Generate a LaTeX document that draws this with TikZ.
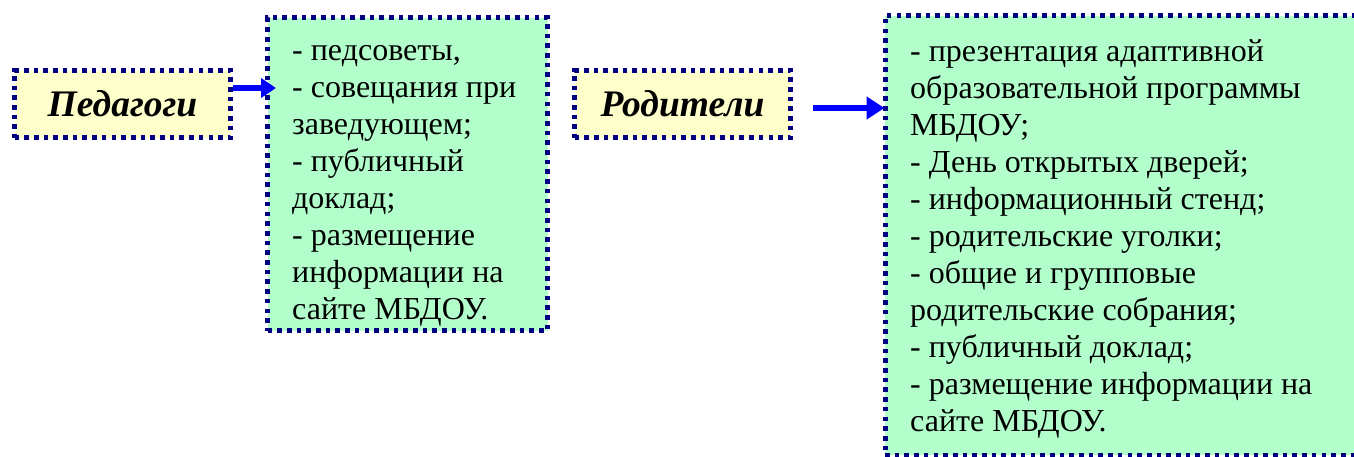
\documentclass[tikz,border=0pt]{standalone}
\usepackage{fontspec}
\setmainfont{Liberation Serif}
\usetikzlibrary{arrows.meta}
\definecolor{navyb}{HTML}{000080}
\definecolor{ylw}{HTML}{FFFFCC}
\definecolor{grn}{HTML}{B3FFCC}
\definecolor{arrblue}{HTML}{0000FF}
\begin{document}
\begin{tikzpicture}[x=1pt,y=-1pt,
 dotborder/.style={draw=navyb, line width=5pt, dash pattern=on 4.6pt off 5.1pt},
 labelbox/.style={dotborder, fill=ylw, rectangle, inner sep=0pt, minimum width=216pt, minimum height=67pt, font=\fontsize{37.5}{42}\selectfont\bfseries\itshape},
 listbox/.style={dotborder, fill=grn, rectangle, inner sep=0pt},
 listtext/.style={anchor=base west, inner sep=0pt, font=\fontsize{32}{37}\selectfont},
 arr/.style={draw=arrblue, line width=5.5pt, -{Triangle[length=15pt,width=19pt]}},
 arrbig/.style={draw=arrblue, line width=6pt, -{Triangle[length=18pt,width=22pt]}}]
\useasboundingbox (0,0) rectangle (1354,456);
\clip (0,0) rectangle (1354,456);
\node[labelbox] (ped) at (122.5,104) {Педагоги};
\node[labelbox] (rod) at (682.5,104) {Родители};
\node[listbox, minimum width=280pt, minimum height=313pt] (g1) at (407.5,174) {};
\node[listbox, minimum width=477pt, minimum height=439.5pt] (g2) at (1123.5,235.25) {};
\node[listtext] (t1) at (292,60) {\begin{tabular}[t]{@{}l@{}}
- педсоветы,\\
- совещания при\\
заведующем;\\
- публичный\\
доклад;\\
- размещение\\
информации на\\
сайте МБДОУ.
\end{tabular}};
\node[listtext] (t2) at (910,61) {\begin{tabular}[t]{@{}l@{}}
- презентация адаптивной\\
образовательной программы\\
МБДОУ;\\
- День открытых дверей;\\
- информационный стенд;\\
- родительские уголки;\\
- общие и групповые\\
родительские собрания;\\
- публичный доклад;\\
- размещение информации на\\
сайте МБДОУ.
\end{tabular}};
\coordinate (a1) at ([yshift=16pt]ped.east);
\draw[arr] (a1) -- ([xshift=11pt]a1 -| g1.west);
\coordinate (a2) at ([xshift=20pt,yshift=-4pt]rod.east);
\draw[arrbig] (a2) -- ([xshift=2pt]a2 -| g2.west);
\end{tikzpicture}
\end{document}
